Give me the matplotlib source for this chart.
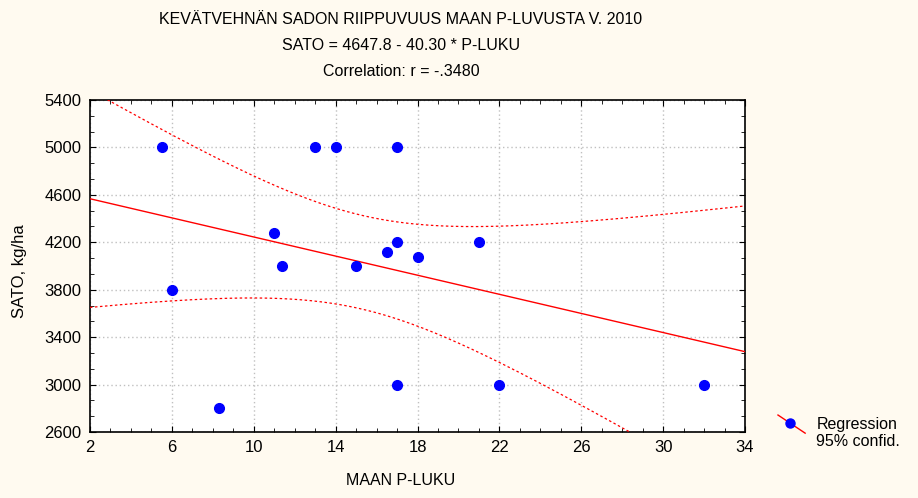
import numpy as np
import matplotlib
matplotlib.use('Agg')
import matplotlib.pyplot as plt
from matplotlib.lines import Line2D
from matplotlib.legend_handler import HandlerLine2D
from matplotlib.ticker import MultipleLocator

# data
p_luku = [5.5, 6, 8.3, 11, 11.4, 13, 14, 15, 16.5, 17, 17, 17, 18, 21, 22, 32]
sato = [5000, 3800, 2800, 4280, 4000, 5000, 5000, 4000, 4120, 4200, 5000, 3000,
        4080, 4200, 3000, 3000]
titles = ["KEVÄTVEHNÄN SADON RIIPPUVUUS MAAN P-LUVUSTA V. 2010",
          "SATO = 4647.8 - 40.30 * P-LUKU",
          "Correlation: r = -.3480"]
b0, b1 = 4647.8, -40.30
t_crit = 2.1448  # t(0.975, df=14)

plt.rcParams['font.family'] = ['Liberation Sans', 'DejaVu Sans']

x = np.array(p_luku)
y = np.array(sato)
n = len(x)
resid = y - (b0 + b1 * x)
s = np.sqrt((resid ** 2).sum() / (n - 2))
sxx = ((x - x.mean()) ** 2).sum()

xx = np.linspace(2, 34, 300)
fit = b0 + b1 * xx
half = t_crit * s * np.sqrt(1.0 / n + (xx - x.mean()) ** 2 / sxx)

bg = '#fffaf0'
fig = plt.figure(figsize=(9.18, 4.98), dpi=100, facecolor=bg)
ax = fig.add_axes([90 / 918, 1 - 432 / 498, 655 / 918, 332 / 498])
ax.set_facecolor('white')

ax.plot(xx, fit, color='red', lw=1, zorder=3)
ax.plot(xx, fit + half, color='red', lw=0.9, ls=(0, (2, 2)), zorder=3)
ax.plot(xx, fit - half, color='red', lw=0.9, ls=(0, (2, 2)), zorder=3)
ax.plot(x, y, 'o', color='blue', ms=7, zorder=4)

ax.set_xlim(2, 34)
ax.set_ylim(2600, 5400)
ax.xaxis.set_major_locator(MultipleLocator(4, offset=2))
ax.xaxis.set_minor_locator(MultipleLocator(1))
ax.yaxis.set_major_locator(MultipleLocator(400, offset=200))
ax.yaxis.set_minor_locator(MultipleLocator(400 / 3, offset=200))
ax.grid(True, which='major', color='#c0c0c0', ls=(0, (1, 2)), lw=1)
ax.tick_params(which='both', direction='in', top=True, right=True,
               labelsize=12, pad=6, colors='black')
ax.tick_params(which='major', length=4)
ax.tick_params(which='minor', length=3)
for sp in ax.spines.values():
    sp.set_linewidth(1.2)

fig.text(401 / 918, 1 - 19 / 498, titles[0], ha='center', va='center', fontsize=11.5)
fig.text(401 / 918, 1 - 45 / 498, titles[1], ha='center', va='center', fontsize=11.5)
fig.text(401 / 918, 1 - 71 / 498, titles[2], ha='center', va='center', fontsize=11.5)
fig.text(401 / 918, 1 - 480 / 498, "MAAN P-LUKU", ha='center', va='center', fontsize=11.5)
fig.text(20 / 918, 1 - 271 / 498, "SATO, kg/ha", ha='center', va='center',
         rotation=90, fontsize=12)


class DiagHandler(HandlerLine2D):
    def create_artists(self, legend, orig, xd, yd, w, h, fontsize, trans):
        ln = Line2D([-xd, -xd + w], [-yd + h + 2, -yd - 3], color='red', lw=1,
                    transform=trans)
        mk = Line2D([-xd + w * 0.46], [-yd + h / 2], marker='o', ls='none',
                    color='blue', ms=6.5, transform=trans)
        return [ln, mk]


h1 = Line2D([], [], color='red', marker='o', mfc='blue', mec='blue')
h2 = Line2D([], [], color='none')
leg = fig.legend([h1, h2], ["Regression", "95% confid."],
                 handler_map={h1: DiagHandler()},
                 loc='upper left', bbox_to_anchor=(770 / 918, 1 - 409 / 498),
                 frameon=False, fontsize=11.5, handlelength=1.7,
                 handletextpad=0.7, labelspacing=0.15, borderpad=0)

fig.savefig('out.png', dpi=100, facecolor=bg)
